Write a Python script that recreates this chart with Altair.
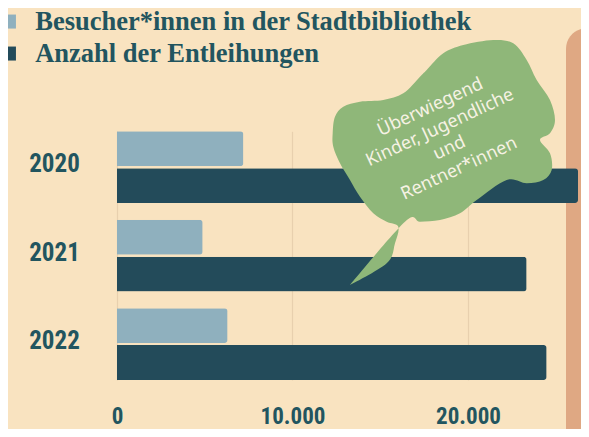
import altair as alt
import pandas as pd

# ---- data ----
YEARS = ["2020", "2021", "2022"]
SERIES = ["Besucher*innen in der Stadtbibliothek", "Anzahl der Entleihungen"]
BESUCHER = [7200, 4880, 6300]
ENTLEIHUNGEN = [26270, 23340, 24480]
X_TICKS = [0, 10000, 20000]
BUBBLE_LINES = ["Überwiegend", "Kinder, Jugendliche", "und", "Rentner*innen"]
BUBBLE_YEAR = ["2020"]
BUBBLE_VALUE = [18547]

# ---- styles ----
BG = "#f9e3c0"
TEAL = "#22555f"
LIGHT = "#8fb0be"
DARK = "#234b5a"
GREEN = "#8fb779"
ORANGE = "#dfa883"
GRID = "#e8d0ae"
COND = "Noto Sans Condensed, Roboto Condensed, Liberation Sans Narrow, DejaVu Sans Condensed, sans-serif"

rows = []
for i, y in enumerate(YEARS):
    rows.append({"year": y, "series": SERIES[0], "value": BESUCHER[i]})
    rows.append({"year": y, "series": SERIES[1], "value": ENTLEIHUNGEN[i]})
df = pd.DataFrame(rows)
bubble_df = pd.DataFrame({"year": BUBBLE_YEAR, "value": BUBBLE_VALUE})
deco_df = pd.DataFrame({"k": [0]})

# cloud speech bubble outline (unit symbol space), smoothed with Catmull-Rom
CLOUD = [(-1.098, -0.003), (-1.075, -0.169), (-0.992, -0.269), (-0.825, -0.319),
         (-0.592, -0.336), (-0.392, -0.403), (-0.225, -0.569), (-0.158, -0.636),
         (0.008, -0.803), (0.208, -0.886), (0.508, -0.936), (0.708, -0.903),
         (0.842, -0.736), (0.942, -0.536), (1.075, -0.336), (1.125, -0.136),
         (1.075, -0.003), (0.975, 0.064), (1.075, 0.197), (1.092, 0.364),
         (1.008, 0.464), (0.842, 0.497), (0.642, 0.464), (0.342, 0.664),
         (0.175, 0.797), (-0.025, 0.864), (-0.225, 0.881), (-0.375, 0.881),
         (-0.925, 1.514), (-0.558, 1.297), (-0.475, 1.097), (-0.442, 0.931),
         (-0.558, 0.881), (-0.692, 0.797), (-0.825, 0.631), (-0.925, 0.464),
         (-1.025, 0.297), (-1.092, 0.131)]
CORNERS = {28}


def smooth(pts, corners):
    n = len(pts)
    f = lambda v: f"{v:.3f}"
    d = f"M{f(pts[0][0])},{f(pts[0][1])}"
    for i in range(n):
        p0, p1, p2, p3 = pts[i - 1], pts[i], pts[(i + 1) % n], pts[(i + 2) % n]
        k1 = 0 if i in corners else 1 / 6
        k2 = 0 if (i + 1) % n in corners else 1 / 6
        c1 = (p1[0] + (p2[0] - p0[0]) * k1, p1[1] + (p2[1] - p0[1]) * k1)
        c2 = (p2[0] - (p3[0] - p1[0]) * k2, p2[1] - (p3[1] - p1[1]) * k2)
        d += f"C{f(c1[0])},{f(c1[1])},{f(c2[0])},{f(c2[1])},{f(p2[0])},{f(p2[1])}"
    return d + "Z"


CLOUD_PATH = smooth(CLOUD, CORNERS)

x_scale = alt.Scale(domain=[0, 26440], nice=False, zero=True)
y_scale = alt.Scale(domain=YEARS, paddingInner=0.188, paddingOuter=0)

x_axis = alt.Axis(
    values=X_TICKS, title=None, domain=False, ticks=False, tickSize=0,
    grid=True, gridColor=GRID, gridWidth=1.2,
    labelExpr="replace(format(datum.value, ','), ',', '.')",
    labelFont=COND, labelFontWeight="bold", labelFontSize=23,
    labelColor=TEAL, labelPadding=25, labelAlign="center",
)
y_axis = alt.Axis(
    title=None, domain=False, ticks=False, tickSize=0, grid=False,
    labelFont=COND, labelFontWeight="bold", labelFontSize=25,
    labelColor=TEAL, labelPadding=63, labelAlign="center", labelOffset=-3,
)

deco = alt.Chart(deco_df).mark_rect(color=ORANGE, cornerRadius=22).encode(
    x=alt.value(449), x2=alt.value(490), y=alt.value(-103), y2=alt.value(320)
)

bars = alt.Chart(df).mark_bar(cornerRadiusEnd=3).encode(
    x=alt.X("value:Q", scale=x_scale, axis=x_axis),
    y=alt.Y("year:N", scale=y_scale, axis=y_axis),
    yOffset=alt.YOffset("series:N", sort=SERIES,
                        scale=alt.Scale(paddingInner=0.055, paddingOuter=0)),
    color=alt.Color(
        "series:N", sort=SERIES,
        scale=alt.Scale(domain=SERIES, range=[LIGHT, DARK]),
        legend=alt.Legend(
            orient="none", legendX=-121.3, legendY=-123, title=None,
            symbolType="square", symbolSize=196, symbolStrokeWidth=0,
            symbolOpacity=1, labelFont="Liberation Serif", labelFontWeight="bold",
            labelFontSize=26.5, labelColor=TEAL, labelLimit=700, labelOffset=13,
            rowPadding=5, padding=0,
        ),
    ),
)

bubble = alt.Chart(bubble_df).mark_point(
    shape=CLOUD_PATH, size=40000, filled=True, color=GREEN, opacity=1, strokeWidth=0
).encode(
    x=alt.X("value:Q", scale=x_scale, axis=x_axis),
    y=alt.Y("year:N", scale=y_scale, axis=y_axis),
    yOffset=alt.value(2.3),
)

bubble_text = alt.Chart(bubble_df).mark_text(
    text=BUBBLE_LINES, angle=335, align="center", baseline="middle",
    lineHeight=22.6, font="Noto Sans", fontSize=18, color="#f6f2e4",
).encode(
    x=alt.X("value:Q", scale=x_scale, axis=x_axis),
    y=alt.Y("year:N", scale=y_scale, axis=y_axis),
    xOffset=alt.value(-12),
    yOffset=alt.value(-23.8),
)

chart = alt.layer(deco, bars, bubble, bubble_text).properties(
    width=464, height=248.7,
    autosize=alt.AutoSizeParams(type="none"),
    padding={"left": 109, "top": 123.3, "right": 0, "bottom": 49},
    background=BG,
).configure_view(stroke=None)

chart.save("out.html", embed_options={"renderer": "svg", "actions": False})
